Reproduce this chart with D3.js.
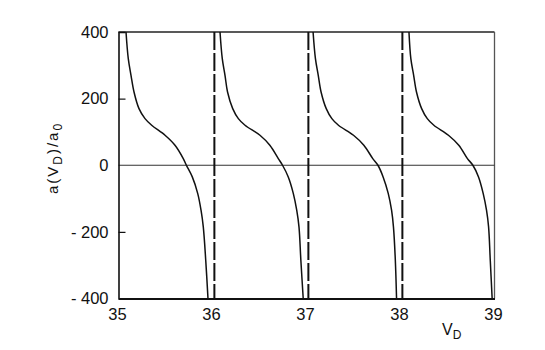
<!DOCTYPE html>
<html>
<head>
<meta charset="utf-8">
<script src="https://cdn.jsdelivr.net/npm/d3@7"></script>
<style>
  html, body { margin: 0; padding: 0; background: #fff; }
  svg { display: block; }
  text { font-family: "Liberation Sans", Arial, Helvetica, sans-serif; fill: #111; }
</style>
</head>
<body>
<svg id="chart" width="545" height="350"></svg>
<script>
// ---- data ----
const yTicks = [400, 200, 0, -200, -400];
const yTickLabels = ["400", "200", "0", "- 200", "- 400"];
const xTicks = [35, 36, 37, 38, 39];
const xTickLabels = ["35", "36", "37", "38", "39"];
const resonances = [36.02, 37.02, 38.02];

// scattering length a/a0 (shared y samples) vs depth for each branch
const branchY = [400, 320, 270, 220, 170, 140, 120, 90, 60, 20, 0, -35, -85, -135, -185, -285, -400];
const branch1X = [35.080, 35.104, 35.133, 35.165, 35.218, 35.282, 35.353, 35.495, 35.601, 35.689, 35.722, 35.785, 35.843, 35.878, 35.902, 35.928, 35.952];
const branch2X = [36.080, 36.104, 36.133, 36.160, 36.215, 36.275, 36.346, 36.505, 36.610, 36.700, 36.745, 36.806, 36.860, 36.896, 36.920, 36.940, 36.965];
const branch3X = [37.070, 37.095, 37.125, 37.155, 37.210, 37.270, 37.340, 37.500, 37.610, 37.705, 37.760, 37.815, 37.870, 37.905, 37.925, 37.945, 37.958];
const branch4X = [38.090, 38.110, 38.140, 38.170, 38.225, 38.285, 38.355, 38.510, 38.620, 38.712, 38.770, 38.830, 38.880, 38.915, 38.937, 38.955, 38.975];
const branches = [branch1X, branch2X, branch3X, branch4X];

// ---- layout ----
const svg = d3.select("#chart");
const L = 118.5, R = 494.5, T = 32, B = 298.5;
const x = d3.scaleLinear().domain([35, 39]).range([L, R]);
const y = d3.scaleLinear().domain([-400, 400]).range([B, T]);
const FONT = "Liberation Sans, Arial, sans-serif";

// frame: top and right
svg.append("line").attr("x1", L).attr("x2", R).attr("y1", T).attr("y2", T)
  .attr("stroke", "#222").attr("stroke-width", 1.6);
svg.append("line").attr("x1", R).attr("x2", R).attr("y1", T).attr("y2", B)
  .attr("stroke", "#555").attr("stroke-width", 1.3);

// zero line
svg.append("line").attr("x1", L).attr("x2", R).attr("y1", y(0)).attr("y2", y(0))
  .attr("stroke", "#333").attr("stroke-width", 1.1);

// dashed resonance lines
svg.selectAll("line.res").data(resonances).enter().append("line")
  .attr("class", "res")
  .attr("x1", d => x(d)).attr("x2", d => x(d))
  .attr("y1", T).attr("y2", B)
  .attr("stroke", "#111").attr("stroke-width", 2)
  .attr("stroke-dasharray", "18,3");

// curves
const line = d3.line()
  .x((d, i) => x(d))
  .y((d, i) => y(branchY[i]))
  .curve(d3.curveCatmullRom.alpha(0.5));
svg.selectAll("path.branch").data(branches).enter().append("path")
  .attr("class", "branch")
  .attr("d", d => line(d))
  .attr("fill", "none").attr("stroke", "#111").attr("stroke-width", 1.5);

// y axis
const yAxis = d3.axisLeft(y).tickValues(yTicks)
  .tickSize(-7).tickPadding(10)
  .tickFormat((d, i) => yTickLabels[i]);
const gy = svg.append("g").attr("transform", `translate(${L},0)`).call(yAxis);
gy.select(".domain").attr("stroke", "#111").attr("stroke-width", 1.6);
gy.selectAll(".tick line").attr("stroke", "#111").attr("stroke-width", 1.2)
  .attr("display", d => (d === 200 || d === -200) ? null : "none");
gy.selectAll(".tick text").attr("font-size", 16.5).attr("fill", "#111")
  .attr("font-family", FONT);

// x axis
const xAxis = d3.axisBottom(x).tickValues(xTicks)
  .tickSize(0).tickPadding(10)
  .tickFormat((d, i) => xTickLabels[i]);
const gx = svg.append("g").attr("transform", `translate(0,${B})`).call(xAxis);
gx.select(".domain").attr("stroke", "#111").attr("stroke-width", 2);
gx.selectAll(".tick text").attr("font-size", 16.5).attr("fill", "#111")
  .attr("font-family", FONT).attr("dx", -1.5);

// axis titles
const xt = svg.append("text").attr("x", 442).attr("y", 335).attr("font-size", 16);
xt.append("tspan").text("V");
xt.append("tspan").attr("dy", 4).attr("font-size", 12).text("D");

const yt = svg.append("text")
  .attr("transform", "translate(58,158) rotate(-90)")
  .attr("text-anchor", "middle").attr("font-size", 15)
  .attr("letter-spacing", 2);
yt.append("tspan").text("a(V");
yt.append("tspan").attr("dy", 4).attr("font-size", 12).text("D");
yt.append("tspan").attr("dy", -4).text(")/a");
yt.append("tspan").attr("dy", 4).attr("font-size", 12).text("0");
</script>
</body>
</html>
